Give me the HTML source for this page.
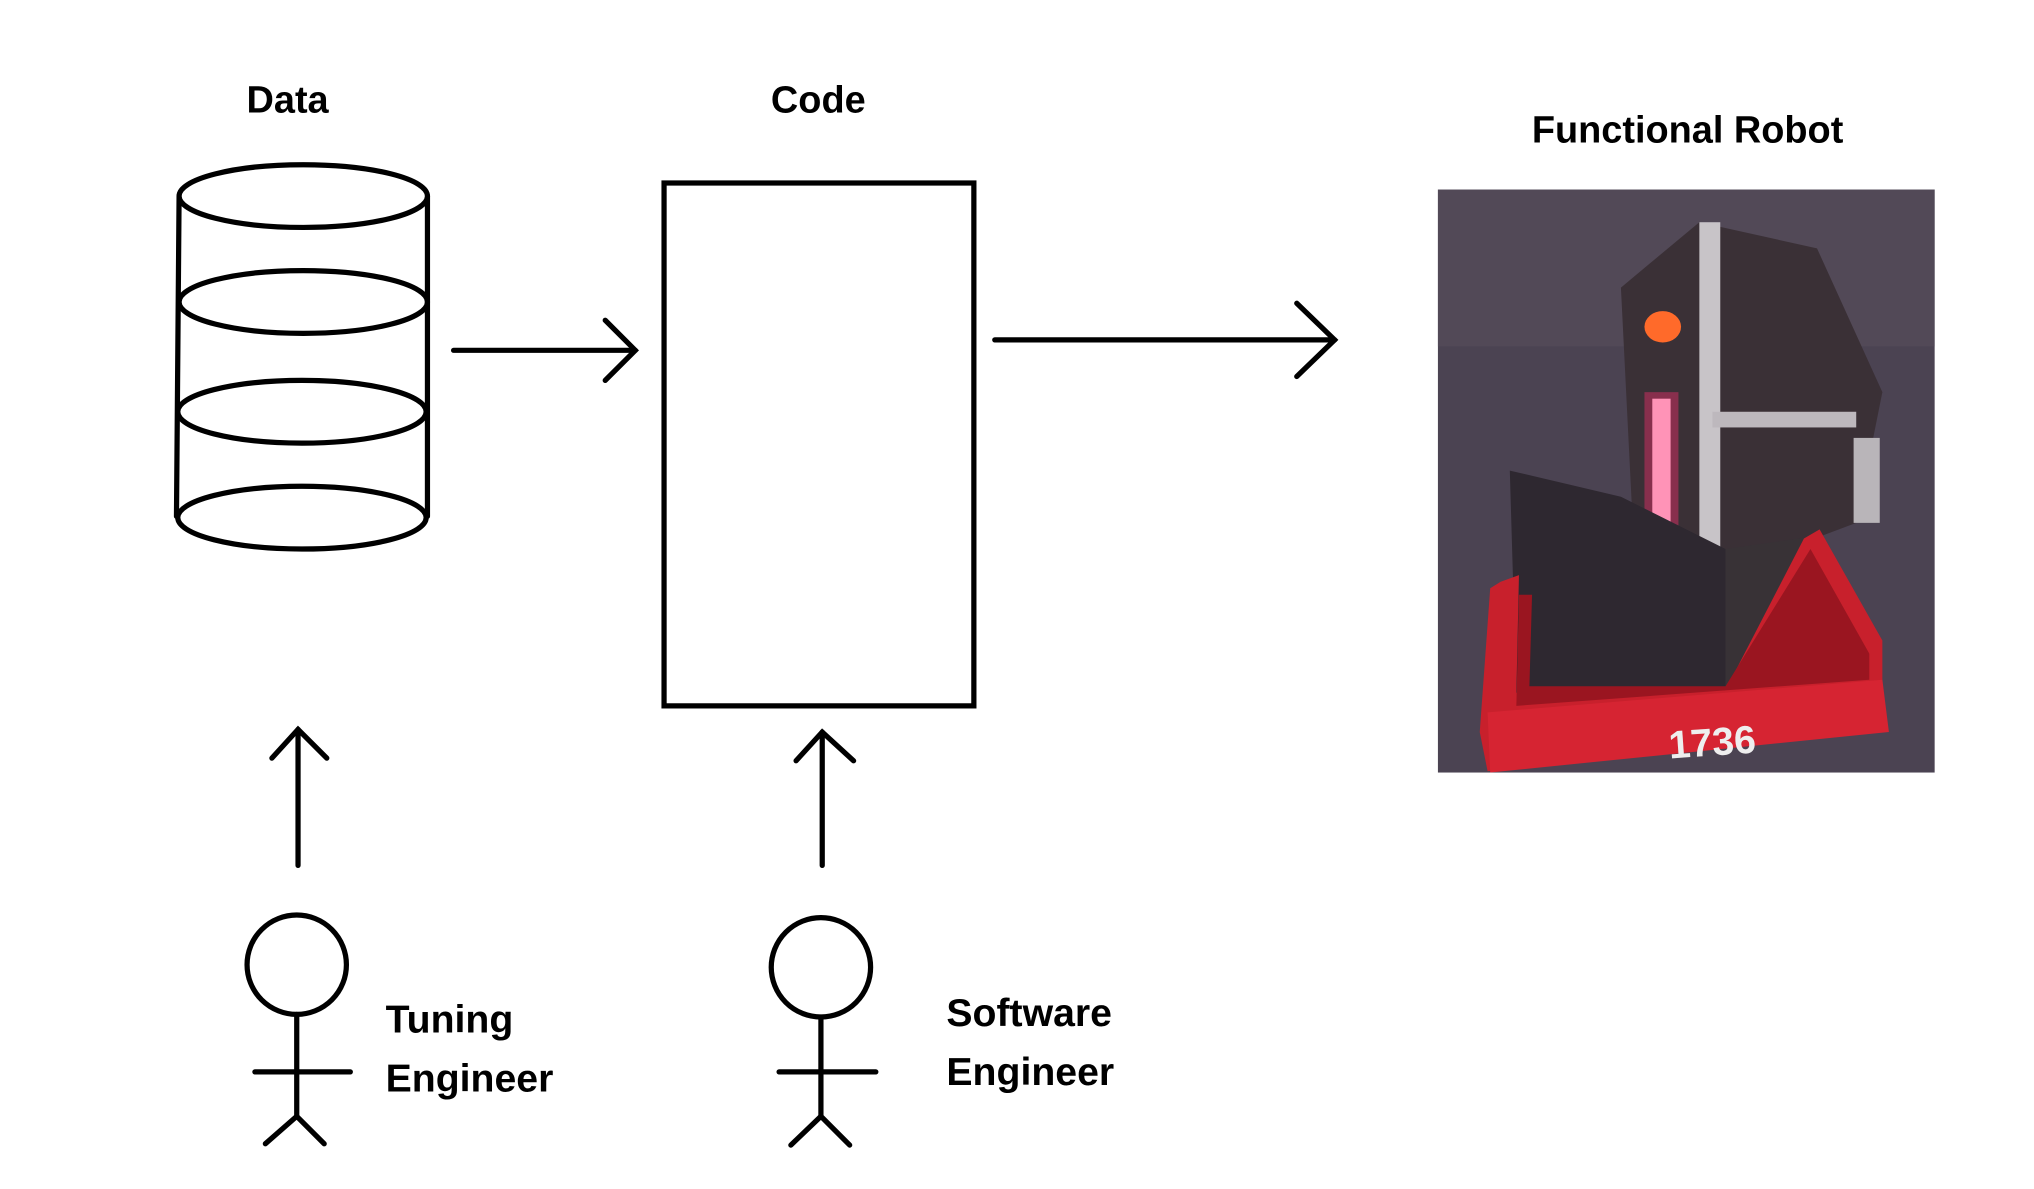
<!DOCTYPE html>
<html><head><meta charset="utf-8"><style>
html,body{margin:0;padding:0;background:#fff;width:2034px;height:1189px;overflow:hidden}
svg{display:block}
text{font-family:"Liberation Sans",sans-serif;font-weight:bold;fill:#000}
</style></head><body>
<svg width="2034" height="1189" viewBox="0 0 1556 909.6" preserveAspectRatio="none">
<g fill="none" stroke="#000" stroke-width="4" stroke-linecap="round">
<line x1="137" y1="150" x2="135" y2="395"/>
<line x1="327" y1="150" x2="327" y2="395"/>
<ellipse cx="232" cy="150" rx="95" ry="24" fill="#fff"/>
<ellipse cx="232" cy="231" rx="95" ry="24"/>
<ellipse cx="231" cy="315" rx="95" ry="24"/>
<ellipse cx="231" cy="396" rx="95" ry="24"/>
<line x1="347" y1="268" x2="486" y2="268"/>
<polyline points="463,245 486,268 463,291"/>
<rect x="508" y="140" width="237" height="400" stroke-linecap="butt"/>
<line x1="761" y1="260" x2="1021" y2="260"/>
<polyline points="992,232 1021,260 992,288"/>
<line x1="228" y1="662" x2="228" y2="558"/>
<polyline points="208,580 228,558 250,580"/>
<line x1="629" y1="662" x2="629" y2="560"/>
<polyline points="609,582 629,560 653,582"/>
<circle cx="227" cy="738" r="38"/>
<line x1="227" y1="776" x2="227" y2="854"/>
<line x1="195" y1="820" x2="268" y2="820"/>
<polyline points="203,875 227,854 248,875"/>
<circle cx="628" cy="740" r="38"/>
<line x1="628" y1="778" x2="628" y2="854"/>
<line x1="596" y1="820" x2="670" y2="820"/>
<polyline points="605,876 628,854 650,876"/>
</g>
<text x="220" y="86" font-size="29" text-anchor="middle">Data</text>
<text x="626" y="86" font-size="29" text-anchor="middle">Code</text>
<text x="1291" y="109" font-size="29" text-anchor="middle">Functional Robot</text>
<text x="295" y="790" font-size="30">Tuning</text>
<text x="295" y="835" font-size="30">Engineer</text>
<text x="724" y="785" font-size="30">Software</text>
<text x="724" y="830" font-size="30">Engineer</text>
<g>
<rect x="1100" y="145" width="380" height="446" fill="#4b4352"/>
<rect x="1100" y="145" width="380" height="120" fill="#564e5c" opacity="0.6"/>
<polygon points="1240,220 1300,170 1390,190 1440,300 1420,400 1340,430 1250,420" fill="#3a3036"/>
<rect x="1300" y="170" width="16" height="330" fill="#c8c4c8"/>
<rect x="1310" y="315" width="110" height="12" fill="#bdb8bd"/>
<rect x="1418" y="335" width="20" height="65" fill="#b9b5b9"/>
<ellipse cx="1272" cy="250" rx="14" ry="12" fill="#ff6a2a"/>
<rect x="1264" y="305" width="14" height="160" fill="#ffd6e6"/>
<rect x="1258" y="300" width="26" height="170" fill="#ff3070" opacity="0.4"/>
<polygon points="1155,360 1240,380 1320,420 1320,530 1160,530" fill="#2e2830"/>
<polygon points="1320,420 1390,410 1420,470 1390,530 1320,530" fill="#383236"/>
<polygon points="1148,445 1162,440 1160,530 1320,528 1380,412 1392,405 1440,490 1440,560 1138,590 1132,560 1140,450" fill="#c8202c"/>
<polygon points="1162,455 1172,455 1170,525 1320,525 1385,420 1430,500 1430,520 1160,540" fill="#9a1520"/>
<polygon points="1138,545 1440,520 1445,560 1140,591" fill="#d62432"/>
<text x="1310" y="578" font-size="30" text-anchor="middle" style="fill:#eee" transform="rotate(-4 1310 570)">1736</text>
</g>
</svg>
</body></html>
